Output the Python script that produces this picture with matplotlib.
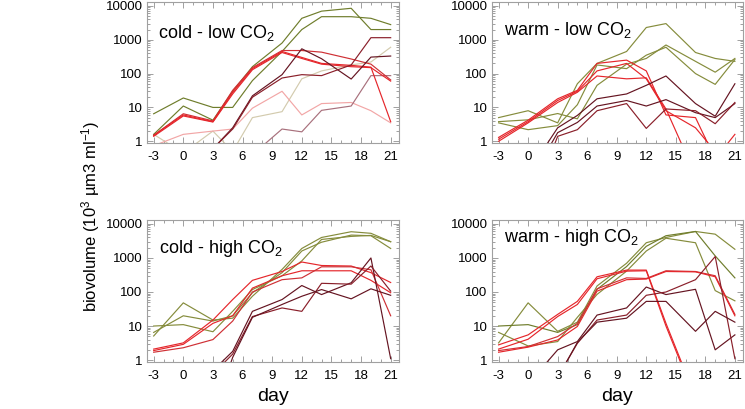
import numpy as np
import matplotlib
matplotlib.use("Agg")
import matplotlib.pyplot as plt
from matplotlib.ticker import FixedLocator, NullFormatter

plt.rcParams['font.family'] = ['Liberation Sans', 'DejaVu Sans']
plt.rcParams['mathtext.fontset'] = 'custom'
plt.rcParams['mathtext.rm'] = 'Liberation Sans'
plt.rcParams['mathtext.default'] = 'regular'
plt.rcParams['axes.unicode_minus'] = False

nan = np.nan
days = [-3, 0, 3, 5, 7, 10, 12, 14, 17, 19, 21]

# cold - low CO2
cl_olive_a = [6.5, 19, 10, 10, 62, 450, 2000, 4800, 4800, 4300, 2800]
cl_olive_b = [1.6, 11, 4.2, 30, 160, 800, 4300, 7000, 8500, 2000, 2000]
cl_red_a = [1.5, 6.5, 4.0, 32, 150, 480, 480, 430, 270, 190, 65]
cl_red_b = [1.5, 6.0, 3.8, 28, 140, 450, 300, 200, 175, 155, 3.8]
cl_red_c = [1.4, 5.6, 3.7, 25, 130, 420, 280, 190, 160, 150, 60]
cl_maroon_a = [nan, nan, 0.6, 2.5, 22, 93, 540, 275, 69, 307, 330]
cl_maroon_b = [nan, nan, 0.6, 2.3, 20, 74, 93, 87, 180, 1150, 1150]
cl_pink = [0.74, 1.6, 2.0, 2.3, 9.5, 30, 6, 13, 14, 8, 3.5]
cl_tan = [1.6, 0.45, 2.0, 0.5, 5, 7.5, 70, 120, 180, 220, 600]
cl_mauve = [nan, nan, nan, nan, 0.4, 2.3, 1.9, 8.2, 11, 87, 87]

# warm - low CO2
wl_olive_a = [5.0, 8.0, 3.5, 50, 200, 450, 2300, 3000, 420, 280, 230]
wl_olive_b = [3.8, 4.3, 6.6, 4.6, 45, 190, 280, 700, 230, 110, 280]
wl_olive_c = [3.5, 2.2, 2.9, 12, 180, 140, 350, 600, 100, 48, 260]
wl_red_a = [1.3, 4.2, 18, 32, 200, 250, 120, 6, 5, 0.3, 1.6]
wl_red_b = [1.15, 3.8, 16, 30, 120, 200, 70, 8, 2.5, 0.5, nan]
wl_red_c = [1.0, 3.5, 14, 28, 85, 70, 75, 9, 0.1, nan, nan]
wl_maroon_a = [nan, 0.12, 2.5, 5.8, 18, 25, 45, 85, 13, 5.5, 50]
wl_maroon_b = [nan, 0.056, 1.8, 3.6, 11, 16, 11, 17, 7, 5, 13]
wl_maroon_c = [nan, 0.008, 1.4, 2.2, 8, 13, 2.4, 9, 8, 3.3, 14]

# cold - high CO2
ch_olive_a = [5.1, 48, 15, 17, 75, 460, 1900, 4000, 5900, 5300, 3000]
ch_olive_b = [6.5, 20, 14, 20, 95, 370, 1600, 2900, 4700, 4500, 1900]
ch_olive_c = [10, 11, 6.8, 27, 118, 300, 820, 3500, 4300, 4600, 3000]
ch_red_a = [2.1, 3.2, 15, 60, 220, 400, 760, 600, 580, 370, 190]
ch_red_b = [1.9, 2.9, 12, 20, 130, 300, 420, 420, 420, 220, 95]
ch_red_c = [1.7, 2.3, 4, 14, 100, 230, 260, 550, 550, 450, 20]
ch_maroon_a = [nan, nan, 0.49, 1.8, 27, 60, 155, 84, 187, 1000, 1.1]
ch_maroon_b = [nan, nan, 0.39, 1.5, 19, 34, 27, 180, 170, 580, 106]
ch_maroon_c = [nan, nan, 0.025, 1.2, 18, 43, 75, 118, 63, 124, 80]

# warm - high CO2
wh_olive_a = [3.2, 48, 7.0, 13, 150, 700, 2800, 4000, 6000, 5000, 1800]
wh_olive_b = [10, 11, 6.5, 11, 120, 560, 2200, 4500, 6000, 1150, 260]
wh_olive_c = [6.5, 2.6, 3.5, 18, 85, 410, 1600, 3800, 2800, 110, 55]
wh_red_a = [2.8, 5.5, 22, 53, 280, 440, 440, 12, 0.08, nan, nan]
wh_red_b = [2.1, 4.1, 19, 43, 245, 410, 420, 10, 0.07, nan, nan]
wh_red_c = [1.9, 2.5, 4.9, 12, 124, 260, 250, 420, 400, 300, 22]
wh_red_d = [1.7, 2.4, 3.9, 9.7, 106, 230, 240, 400, 390, 280, 20]
wh_maroon_a = [nan, 0.2, 2.0, 3.5, 21, 34, 140, 84, 120, 2, 5.5]
wh_maroon_b = [nan, nan, 0.32, 3.1, 15, 21, 80, 100, 230, 1100, 1.1]
wh_maroon_c = [nan, nan, 0.3, 3.3, 13, 17, 53, 53, 7, 27, 13]

OLIVE = '#6f7d2c'
OLIVE2 = '#858c3c'
RED = '#e5262b'
RED2 = '#cf3035'
MAROON = '#651421'
MAROON2 = '#8a1f2a'
PINK = '#f2a6a6'
TAN = '#d3cbae'
MAUVE = '#a8707c'

panels = [
    ('cold - low CO$_2$', (0.045, 0.745), [
        (cl_tan, TAN), (cl_pink, PINK), (cl_mauve, MAUVE),
        (cl_olive_a, OLIVE), (cl_olive_b, OLIVE),
        (cl_red_a, RED2), (cl_red_b, RED), (cl_red_c, RED),
        (cl_maroon_a, MAROON), (cl_maroon_b, MAROON2)]),
    ('warm - low CO$_2$', (0.05, 0.765), [
        (wl_olive_a, OLIVE2), (wl_olive_b, OLIVE2), (wl_olive_c, OLIVE2),
        (wl_red_a, RED), (wl_red_b, RED), (wl_red_c, RED),
        (wl_maroon_a, MAROON), (wl_maroon_b, MAROON), (wl_maroon_c, MAROON2)]),
    ('cold - high CO$_2$', (0.05, 0.765), [
        (ch_olive_a, OLIVE2), (ch_olive_b, OLIVE2), (ch_olive_c, OLIVE2),
        (ch_red_a, RED), (ch_red_b, RED), (ch_red_c, RED2),
        (ch_maroon_a, MAROON), (ch_maroon_b, MAROON2), (ch_maroon_c, MAROON)]),
    ('warm - high CO$_2$', (0.05, 0.845), [
        (wh_olive_a, OLIVE2), (wh_olive_b, OLIVE), (wh_olive_c, OLIVE2),
        (wh_red_a, RED), (wh_red_b, RED), (wh_red_c, RED2), (wh_red_d, RED),
        (wh_maroon_a, MAROON), (wh_maroon_b, MAROON2), (wh_maroon_c, MAROON)]),
]

fig = plt.figure(figsize=(7.45, 4.09), dpi=100)
rects = [
    [0.197, 0.650, 0.338, 0.345],
    [0.660, 0.650, 0.337, 0.345],
    [0.197, 0.115, 0.338, 0.347],
    [0.660, 0.115, 0.337, 0.347],
]

for i, (title, tpos, series) in enumerate(panels):
    ax = fig.add_axes(rects[i])
    for vals, col in series:
        ax.plot(days, vals, color=col, lw=0.85)
    ax.set_yscale('log')
    ax.set_ylim(0.88, 13000)
    ax.set_xlim(-3.7, 21.8)
    ax.set_yticks([1, 10, 100, 1000, 10000], labels=['1', '10', '100', '1000', '10000'])
    ax.yaxis.set_minor_locator(FixedLocator(
        [m * 10 ** e for e in range(0, 4) for m in range(2, 10)]))
    ax.yaxis.set_minor_formatter(NullFormatter())
    ax.set_xticks([-3, 0, 3, 6, 9, 12, 15, 18, 21])
    ax.set_xticks(np.arange(-3, 22, 1), minor=True)
    ax.tick_params(which='both', direction='in', top=True, right=True,
                   color='#a0a0a0', labelsize=9.5, width=0.7)
    ax.tick_params(which='major', length=4)
    ax.tick_params(which='minor', length=2)
    ax.tick_params(axis='x', pad=6)
    ax.tick_params(axis='y', pad=3)
    for sp in ax.spines.values():
        sp.set_color('#a0a0a0')
        sp.set_linewidth(0.8)
    ax.text(tpos[0], tpos[1], title, transform=ax.transAxes, fontsize=13,
            va='baseline', ha='left')
    if i >= 2:
        ax.set_xlabel('day', fontsize=14, labelpad=4)

fig.text(0.121, 0.47, 'biovolume (10$^3$ µm3 ml$^{-1}$)', rotation=90,
         fontsize=12, ha='center', va='center')

fig.savefig('out.png', dpi=100)
